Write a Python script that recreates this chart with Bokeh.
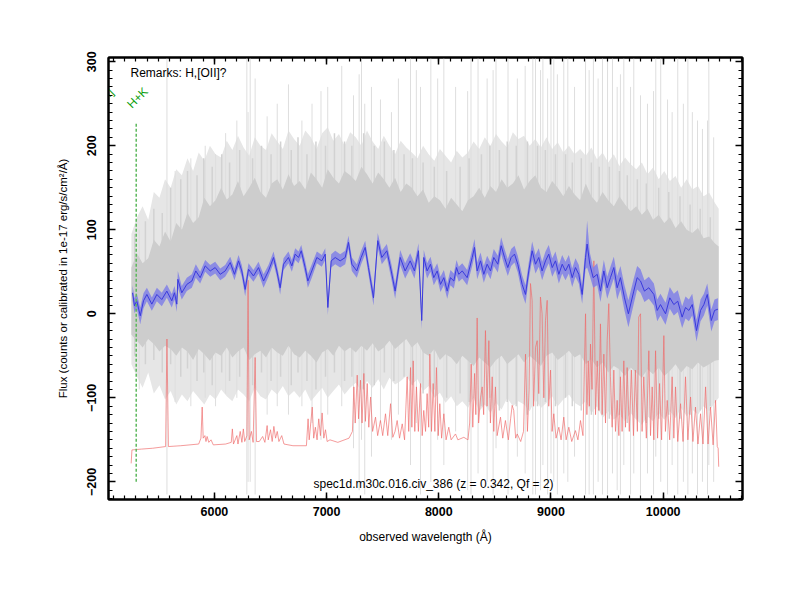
import numpy as np
from bokeh.plotting import figure
from bokeh.models import (Range1d, LinearAxis, SingleIntervalTicker, Label,
                          CustomJSTickFormatter)
from bokeh.embed import file_html
from bokeh.resources import INLINE
from bokeh.core.properties import value

# ---------------- data ----------------
blue_wave = [5270, 5288, 5308, 5339, 5368, 5398, 5442, 5487, 5531, 5576,
             5620, 5644, 5665, 5674, 5709, 5754, 5799, 5834, 5873, 5918,
             5963, 6007, 6052, 6096, 6141, 6179, 6215, 6244, 6274, 6304,
             6348, 6393, 6438, 6482, 6527, 6556, 6586, 6616, 6660, 6690,
             6720, 6750, 6774, 6809, 6833, 6868, 6913, 6957, 6988, 7011,
             7041, 7077, 7121, 7166, 7195, 7225, 7269, 7308, 7344, 7373,
             7418, 7456, 7492, 7537, 7576, 7611, 7656, 7700, 7745, 7783,
             7819, 7848, 7866, 7896, 7926, 7955, 7986, 8015, 8045, 8075,
             8104, 8134, 8158, 8178, 8209, 8253, 8298, 8318, 8342, 8372,
             8401, 8431, 8461, 8490, 8526, 8556, 8586, 8615, 8645, 8675,
             8704, 8743, 8773, 8802, 8832, 8862, 8891, 8921, 8951, 8980,
             9011, 9040, 9070, 9100, 9129, 9159, 9189, 9218, 9248, 9278,
             9308, 9322, 9346, 9376, 9412, 9441, 9471, 9501, 9530, 9560,
             9590, 9619, 9655, 9690, 9738, 9768, 9798, 9833, 9872, 9917,
             9947, 9976, 10021, 10059, 10095, 10130, 10169, 10199, 10229, 10259,
             10297, 10333, 10363, 10393, 10429, 10458, 10488]
blue_flux = [25, 9.5, 15.5, -2.4, 15.5, 23, 11.5, 23, 17, 27,
             15.5, 25, 11.5, 41, 25, 35, 39, 51, 43, 57,
             51, 55, 47, 51, 61, 47, 63, 51, 29, 53,
             45, 55, 39, 51, 67, 51, 31, 59, 67, 57,
             71, 67, 75, 55, 39, 51, 67, 63, 71, 7.5,
             63, 67, 63, 67, 85, 59, 51, 67, 79, 55,
             19, 87, 67, 75, 51, 27, 67, 51, 63, 51,
             75, -8, 67, 51, 59, 43, 51, 35, 43, 27,
             43, 39, 55, 47, 51, 43, 67, 79, 51, 63,
             47, 59, 51, 67, 59, 81, 67, 55, 67, 71,
             59, 35, 23, 51, 75, 59, 67, 51, 63, 71,
             55, 63, 47, 59, 51, 59, 43, 55, 47, 23,
             67, 83, 59, 43, 47, 27, 51, 31, 43, 55,
             31, 43, 19, 0, 27, 43, 39, 27, 31, 23,
             4, 11, 0, 19, 11, 15, -4, 7.5, 4, 11,
             -20, 4, 11, 23, -8, 4, 5.5]
blue_err = [9, 9, 9, 10, 9, 8, 8, 8, 8, 8,
            8, 8, 9, 10, 8, 8, 8, 8, 7, 7,
            7, 7, 7, 7, 7, 7, 7, 7, 8, 7,
            7, 7, 8, 7, 7, 7, 8, 7, 7, 7,
            7, 7, 7, 8, 8, 8, 7, 7, 7, 9,
            8, 8, 8, 8, 8, 8, 8, 8, 8, 8,
            9, 9, 8, 8, 9, 9, 9, 9, 9, 9,
            9, 10, 9, 9, 9, 9, 9, 9, 9, 9,
            9, 9, 9, 9, 9, 9, 10, 10, 10, 10,
            10, 10, 10, 10, 10, 10, 10, 10, 10, 10,
            10, 11, 11, 10, 11, 11, 11, 11, 11, 11,
            11, 11, 11, 11, 11, 11, 11, 11, 11, 11,
            14, 28, 14, 12, 13, 13, 13, 13, 13, 13,
            14, 14, 15, 16, 15, 14, 14, 13, 13, 13,
            13, 13, 13, 13, 13, 13, 13, 13, 13, 13,
            13, 13, 13, 13, 13, 13, 13]

# grey raw-spectrum envelopes, sampled every 50 A
grey_wave = list(range(5260, 10461, 50)) + [10495]
dark_hi = [55, 72, 60, 66, 88, 80, 98, 86, 108, 100,
           120, 108, 115, 138, 128, 135, 150, 136, 142, 158,
           140, 150, 162, 145, 138, 155, 160, 148, 166, 152,
           158, 148, 168, 160, 150, 172, 162, 155, 170, 165,
           158, 175, 166, 155, 168, 160, 150, 162, 145, 155,
           150, 140, 148, 132, 140, 135, 125, 138, 130, 122,
           135, 140, 150, 138, 152, 145, 160, 150, 155, 165,
           148, 158, 165, 150, 145, 158, 150, 140, 152, 142,
           135, 155, 140, 132, 145, 135, 128, 140, 130, 122,
           128, 118, 125, 112, 118, 108, 115, 102, 110, 100,
           96, 102, 90, 92, 84, 80]
dark_lo = [-25, -32, -40, -30, -36, -45, -38, -42, -50, -40,
           -45, -55, -42, -48, -56, -46, -50, -40, -52, -45,
           -40, -55, -48, -44, -52, -40, -46, -50, -38, -48,
           -52, -44, -50, -58, -46, -42, -50, -38, -45, -40,
           -46, -38, -44, -35, -45, -40, -32, -42, -36, -30,
           -40, -34, -46, -50, -42, -55, -48, -52, -60, -50,
           -56, -62, -52, -58, -64, -55, -50, -60, -54, -48,
           -58, -50, -56, -62, -50, -46, -55, -50, -44, -52,
           -48, -60, -54, -64, -58, -70, -62, -66, -74, -64,
           -70, -76, -66, -72, -64, -74, -68, -60, -70, -62,
           -66, -58, -64, -60, -56, -55]
light_hi = [95, 115, 128, 112, 145, 138, 160, 150, 172, 165,
            185, 170, 192, 182, 200, 190, 186, 206, 195, 212,
            198, 188, 210, 200, 195, 215, 205, 196, 218, 208,
            200, 218, 210, 196, 215, 222, 206, 214, 200, 216,
            210, 200, 218, 205, 196, 212, 200, 190, 206, 198,
            192, 185, 200, 190, 182, 196, 188, 180, 194, 186,
            192, 205, 196, 210, 200, 214, 205, 198, 216, 208,
            212, 200, 208, 198, 210, 196, 204, 192, 200, 190,
            196, 188, 198, 184, 192, 180, 190, 176, 186, 178,
            172, 180, 166, 174, 160, 170, 158, 164, 150, 160,
            148, 152, 140, 144, 132, 125]
light_lo = [-60, -75, -88, -70, -95, -85, -102, -92, -108, -96,
            -104, -92, -100, -108, -96, -102, -90, -98, -104, -90,
            -96, -104, -88, -98, -102, -90, -96, -86, -98, -92,
            -100, -90, -104, -96, -88, -100, -92, -84, -96, -88,
            -82, -92, -80, -88, -78, -90, -76, -84, -80, -74,
            -84, -78, -92, -86, -100, -94, -106, -98, -110, -104,
            -112, -100, -116, -108, -118, -106, -114, -100, -110, -104,
            -108, -116, -102, -112, -106, -98, -110, -102, -96, -106,
            -110, -104, -118, -110, -124, -116, -126, -120, -128, -118,
            -126, -132, -122, -128, -118, -126, -116, -124, -112, -122,
            -114, -120, -110, -116, -106, -100]

# darker noise streaks of the raw spectrum
streak_wave = [5290, 5385, 5460, 5535, 5610, 5700, 5760, 5845, 5905, 5980,
               6065, 6135, 6225, 6340, 6420, 6505, 6590, 6685, 6745, 6825,
               6905, 6990, 7070, 7160, 7225, 7330, 7425, 7515, 7600, 7690,
               7765, 7860, 7960, 8070, 8190, 8270, 8380, 8455, 8540, 8610,
               8690, 8790, 8880, 8950, 9040, 9130, 9190, 9270, 9360, 9430,
               9520, 9610, 9680, 9770, 9850, 9960, 10050, 10150, 10240, 10330, 10420]
streak_lo = [-50, -60, -55, -70, -60, -75, -65, -80, -70, -85,
             -70, -80, -75, -85, -70, -80, -75, -85, -70, -80,
             -90, -75, -70, -80, -75, -90, -85, -70, -80, -75,
             -85, -95, -90, -100, -95, -105, -110, -100, -115, -105,
             -110, -120, -110, -105, -110, -100, -110, -115, -120, -115,
             -125, -120, -130, -125, -130, -125, -120, -125, -120, -115, -110]
streak_hi = [95, 110, 125, 120, 150, 160, 170, 165, 185, 175,
             190, 180, 195, 185, 200, 190, 205, 195, 210, 190,
             205, 200, 215, 205, 200, 215, 200, 205, 195, 190,
             185, 180, 175, 170, 175, 185, 190, 200, 195, 205,
             200, 205, 200, 195, 190, 190, 180, 185, 180, 175,
             175, 170, 165, 160, 155, 150, 145, 140, 130, 125, 115]

# individual tall noise spikes of the raw spectrum
spike_wave = [5330, 5577, 5650, 5790, 5918, 6010, 6100, 6200, 6289, 6300, 6319, 6363,
              6470, 6560, 6660, 6780, 6870, 6950, 7010, 7135, 7240, 7290, 7311, 7340,
              7400, 7480, 7578, 7640, 7748, 7800, 7837, 7929, 7990, 8045, 8150, 8257,
              8287, 8350, 8431, 8484, 8510, 8617, 8700, 8770, 8838, 8862, 8907, 8928,
              8970, 9000, 9025, 9057, 9114, 9150, 9210, 9308, 9340, 9378, 9420, 9459,
              9504, 9548, 9590, 9619, 9649, 9709, 9738, 9798, 9860, 9914, 9934, 9978,
              10039, 10080, 10130, 10180, 10220, 10260, 10306, 10350, 10395, 10407, 10450]
spike_lo = [-90, -215, -105, -110, -100, -110, -95, -100, -215, -200, -200, -215,
            -120, -110, -120, -110, -130, -150, -120, -110, -160, -210, -150, -215,
            -170, -130, -150, -120, -180, -130, -215, -200, -150, -180, -140, -210,
            -215, -190, -200, -215, -160, -215, -170, -190, -215, -215, -210, -180,
            -215, -190, -200, -215, -190, -200, -170, -215, -215, -215, -200, -215,
            -215, -190, -210, -215, -180, -215, -190, -215, -190, -215, -170, -200,
            -215, -180, -215, -200, -215, -190, -215, -200, -215, -180, -200]
spike_hi = [100, 305, 170, 185, 200, 190, 215, 230, 305, 240, 305, 280,
            235, 250, 273, 230, 250, 265, 270, 295, 260, 285, 305, 250,
            270, 255, 240, 280, 305, 290, 270, 305, 280, 305, 270, 265,
            305, 305, 280, 290, 305, 305, 280, 295, 305, 305, 290, 305,
            280, 305, 305, 285, 305, 305, 270, 305, 290, 305, 280, 305,
            305, 305, 270, 285, 305, 270, 305, 260, 250, 265, 305, 305,
            255, 240, 305, 250, 305, 240, 230, 220, 230, 305, 210]

# sky spectrum (offset)
sky_wave = [5258, 5265, 5350, 5450, 5565, 5577, 5590, 5700, 5860, 5880, 5891, 5900,
            5915, 5925, 5935, 5950, 5970, 5990, 6100, 6150, 6160, 6170, 6200, 6210,
            6230, 6245, 6258, 6270, 6290, 6300, 6310, 6330, 6345, 6363, 6375, 6400,
            6430, 6450, 6470, 6480, 6500, 6515, 6530, 6545, 6560, 6575, 6600, 6620,
            6700, 6820, 6835, 6845, 6860, 6872, 6885, 6900, 6915, 6930, 6945, 6960,
            6975, 6990, 7005, 7030, 7100, 7200, 7230, 7243, 7255, 7273, 7285, 7302,
            7316, 7332, 7346, 7362, 7376, 7392, 7410, 7436, 7455, 7480, 7500, 7525,
            7545, 7570, 7590, 7610, 7629, 7650, 7674, 7695, 7718, 7732, 7748, 7760,
            7772, 7786, 7801, 7818, 7837, 7852, 7866, 7882, 7896, 7910, 7920, 7935,
            7950, 7965, 7979, 7995, 8009, 8025, 8045, 8065, 8089, 8110, 8149, 8170,
            8223, 8260, 8275, 8289, 8303, 8319, 8330, 8342, 8355, 8372, 8387, 8400,
            8416, 8430, 8446, 8460, 8476, 8490, 8505, 8520, 8550, 8570, 8594, 8620,
            8640, 8654, 8668, 8685, 8699, 8730, 8755, 8773, 8790, 8805, 8817, 8832,
            8845, 8862, 8877, 8891, 8906, 8921, 8936, 8951, 8966, 8980, 8996, 9010,
            9025, 9045, 9070, 9090, 9114, 9135, 9159, 9185, 9218, 9240, 9263, 9285,
            9308, 9320, 9332, 9342, 9352, 9366, 9382, 9397, 9412, 9426, 9441, 9456,
            9471, 9486, 9501, 9515, 9530, 9545, 9560, 9575, 9590, 9605, 9619, 9634,
            9649, 9664, 9679, 9698, 9717, 9735, 9752, 9770, 9782, 9798, 9812, 9827,
            9850, 9872, 9887, 9902, 9917, 9932, 9950, 9968, 9986, 10006, 10020, 10036,
            10058, 10080, 10095, 10110, 10130, 10155, 10177, 10199, 10220, 10244, 10265, 10288,
            10310, 10333, 10355, 10378, 10400, 10422, 10445, 10467, 10482, 10490, 10495]
sky_flux = [-178, -162, -161, -160, -158, -30, -158, -157, -155, -148, -111, -148,
            -145, -152, -146, -153, -150, -156, -155, -153, -137, -155, -145, -155,
            -140, -153, -137, -152, -145, 40, -150, -140, -153, -52, -152, -152,
            -146, -153, -133, -150, -138, -152, -134, -148, -140, -152, -145, -155,
            -157, -157, -125, -150, -128, -111, -148, -135, -150, -125, -145, -118,
            -148, -138, -152, -150, -153, -148, -140, -87, -130, -73, -125, -79,
            -130, -71, -128, -83, -135, -99, -140, -123, -145, -127, -145, -119,
            -145, -107, -147, -140, -127, -148, -131, -150, -75, -140, -64, -135,
            -56, -140, -87, -140, -83, -145, -115, -140, -95, -135, -48, -140,
            -83, -140, -64, -145, -107, -148, -119, -150, -135, -150, -143, -150,
            -147, -150, -130, -60, -135, -71, -120, -5, -130, -100, -87, -120,
            -20, -110, -32, -130, -75, -140, -87, -145, -123, -148, -127, -150,
            -125, -109, -115, -148, -143, -152, -140, -48, -140, -90, 36, 16,
            -110, -40, -32, -95, 20, 0, -100, -8, 16, -110, -67, -140,
            -119, -148, -135, -150, -123, -150, -135, -152, -139, -150, -127, -145,
            0, -120, -56, -110, -36, -90, 63, -120, -56, -115, -12, -120,
            -48, -130, -32, 12, -75, -135, -67, -140, -103, -145, -75, -140,
            -56, -135, -64, -140, -67, -145, -67, -140, -4, 0, -140, -75,
            -148, -44, -145, -87, -150, -44, -148, -83, -150, -26, -140, -103,
            -150, -75, -148, -87, -152, -107, -152, -75, -150, -99, -152, -111,
            -155, -119, -155, -87, -155, -111, -156, -103, -158, -160, -182]

# identified line markers (rest wavelength * (1+z))
line_names = ["[OII]", "H+K"]
line_wave = [5002, 5303]

remark_text = "Remarks: H,[OII]?"
title_text = "spec1d.m30c.016.civ_386 (z = 0.342, Qf = 2)"

# ---------------- figure ----------------
p = figure(width=792, height=592, output_backend="svg", toolbar_location=None,
           x_range=Range1d(5056, 10707), y_range=Range1d(-221, 305),
           min_border_left=108, min_border_right=50, min_border_top=57,
           min_border_bottom=93, x_axis_location=None, y_axis_location=None)
p.grid.visible = False
p.outline_line_color = "black"
p.outline_line_width = 2
p.background_fill_color = "white"
p.border_fill_color = "white"

FONT = "Liberation Sans"


def make_axis(interval, show_labels, vertical=False):
    ax = LinearAxis(ticker=SingleIntervalTicker(interval=interval, num_minor_ticks=10))
    ax.axis_line_width = 2
    ax.axis_line_color = "black"
    ax.major_tick_in = 7
    ax.major_tick_out = 0
    ax.minor_tick_in = 4
    ax.minor_tick_out = 0
    ax.major_tick_line_width = 1.5
    ax.minor_tick_line_width = 1.2
    ax.major_label_text_font = FONT
    ax.major_label_text_font_style = "bold"
    ax.major_label_text_font_size = "12.5px"
    ax.major_label_text_color = "black"
    ax.axis_label_text_font = FONT
    ax.axis_label_text_font_style = "normal"
    ax.axis_label_text_font_size = "12px"
    ax.axis_label_text_color = "black"
    if not show_labels:
        ax.formatter = CustomJSTickFormatter(code="return ''")
    if vertical:
        ax.major_label_orientation = "vertical"
    return ax


xb = make_axis(1000, True)
xb.axis_label = "observed wavelength (Å)"
xb.major_label_standoff = 7
xb.axis_label_standoff = 11
p.add_layout(xb, "below")

xt = make_axis(1000, False)
p.add_layout(xt, "above")

yl = make_axis(100, True, vertical=True)
yl.axis_label = "Flux (counts or calibrated in 1e-17 erg/s/cm²/Å)"
yl.axis_label_text_font_size = "11.5px"
yl.major_label_standoff = 12
yl.axis_label_standoff = 16
p.add_layout(yl, "left")

yr = make_axis(100, False)
p.add_layout(yr, "right")

# grey raw spectrum
p.varea(x=grey_wave, y1=light_lo, y2=light_hi, fill_color="#e6e6e6", fill_alpha=1)
p.segment(x0=spike_wave, y0=spike_lo, x1=spike_wave, y1=spike_hi,
          line_color="#dedede", line_width=1)
p.segment(x0=streak_wave, y0=streak_lo, x1=streak_wave, y1=streak_hi,
          line_color="#d2d2d2", line_width=1.5)
p.varea(x=grey_wave, y1=dark_lo, y2=dark_hi, fill_color="#cdcdcd", fill_alpha=1)

# sky
p.line(sky_wave, sky_flux, line_color="#ef6a6a", line_width=0.9, line_alpha=0.75)

# smoothed spectrum with error band
bw = np.array(blue_wave, dtype=float)
bf = np.array(blue_flux, dtype=float)
be = np.array(blue_err, dtype=float)
p.varea(x=bw, y1=bf - be, y2=bf + be, fill_color="#8080e6", fill_alpha=0.85)
p.line(bw, bf, line_color="#3a3adc", line_width=1)

# line markers
p.segment(x0=line_wave, y0=[-200] * len(line_wave), x1=line_wave, y1=[228] * len(line_wave),
          line_color="#5cb85c", line_width=1.5, line_dash="3 2")
p.text(x=line_wave, y=[247] * len(line_wave), text=line_names, angle=np.pi / 4,
       text_font=value(FONT), text_font_size="12px", text_color="#119f11",
       text_align="left", text_baseline="middle", x_offset=-7)

p.add_layout(Label(x=5252, y=286, text=remark_text, text_font=FONT,
                   text_font_size="12px", text_color="black",
                   text_align="left", text_baseline="middle"))
p.add_layout(Label(x=7953, y=-203, text=title_text, text_font=FONT,
                   text_font_size="12px", text_color="black",
                   text_align="center", text_baseline="middle"))

open("out.html", "w").write(file_html(p, INLINE))
